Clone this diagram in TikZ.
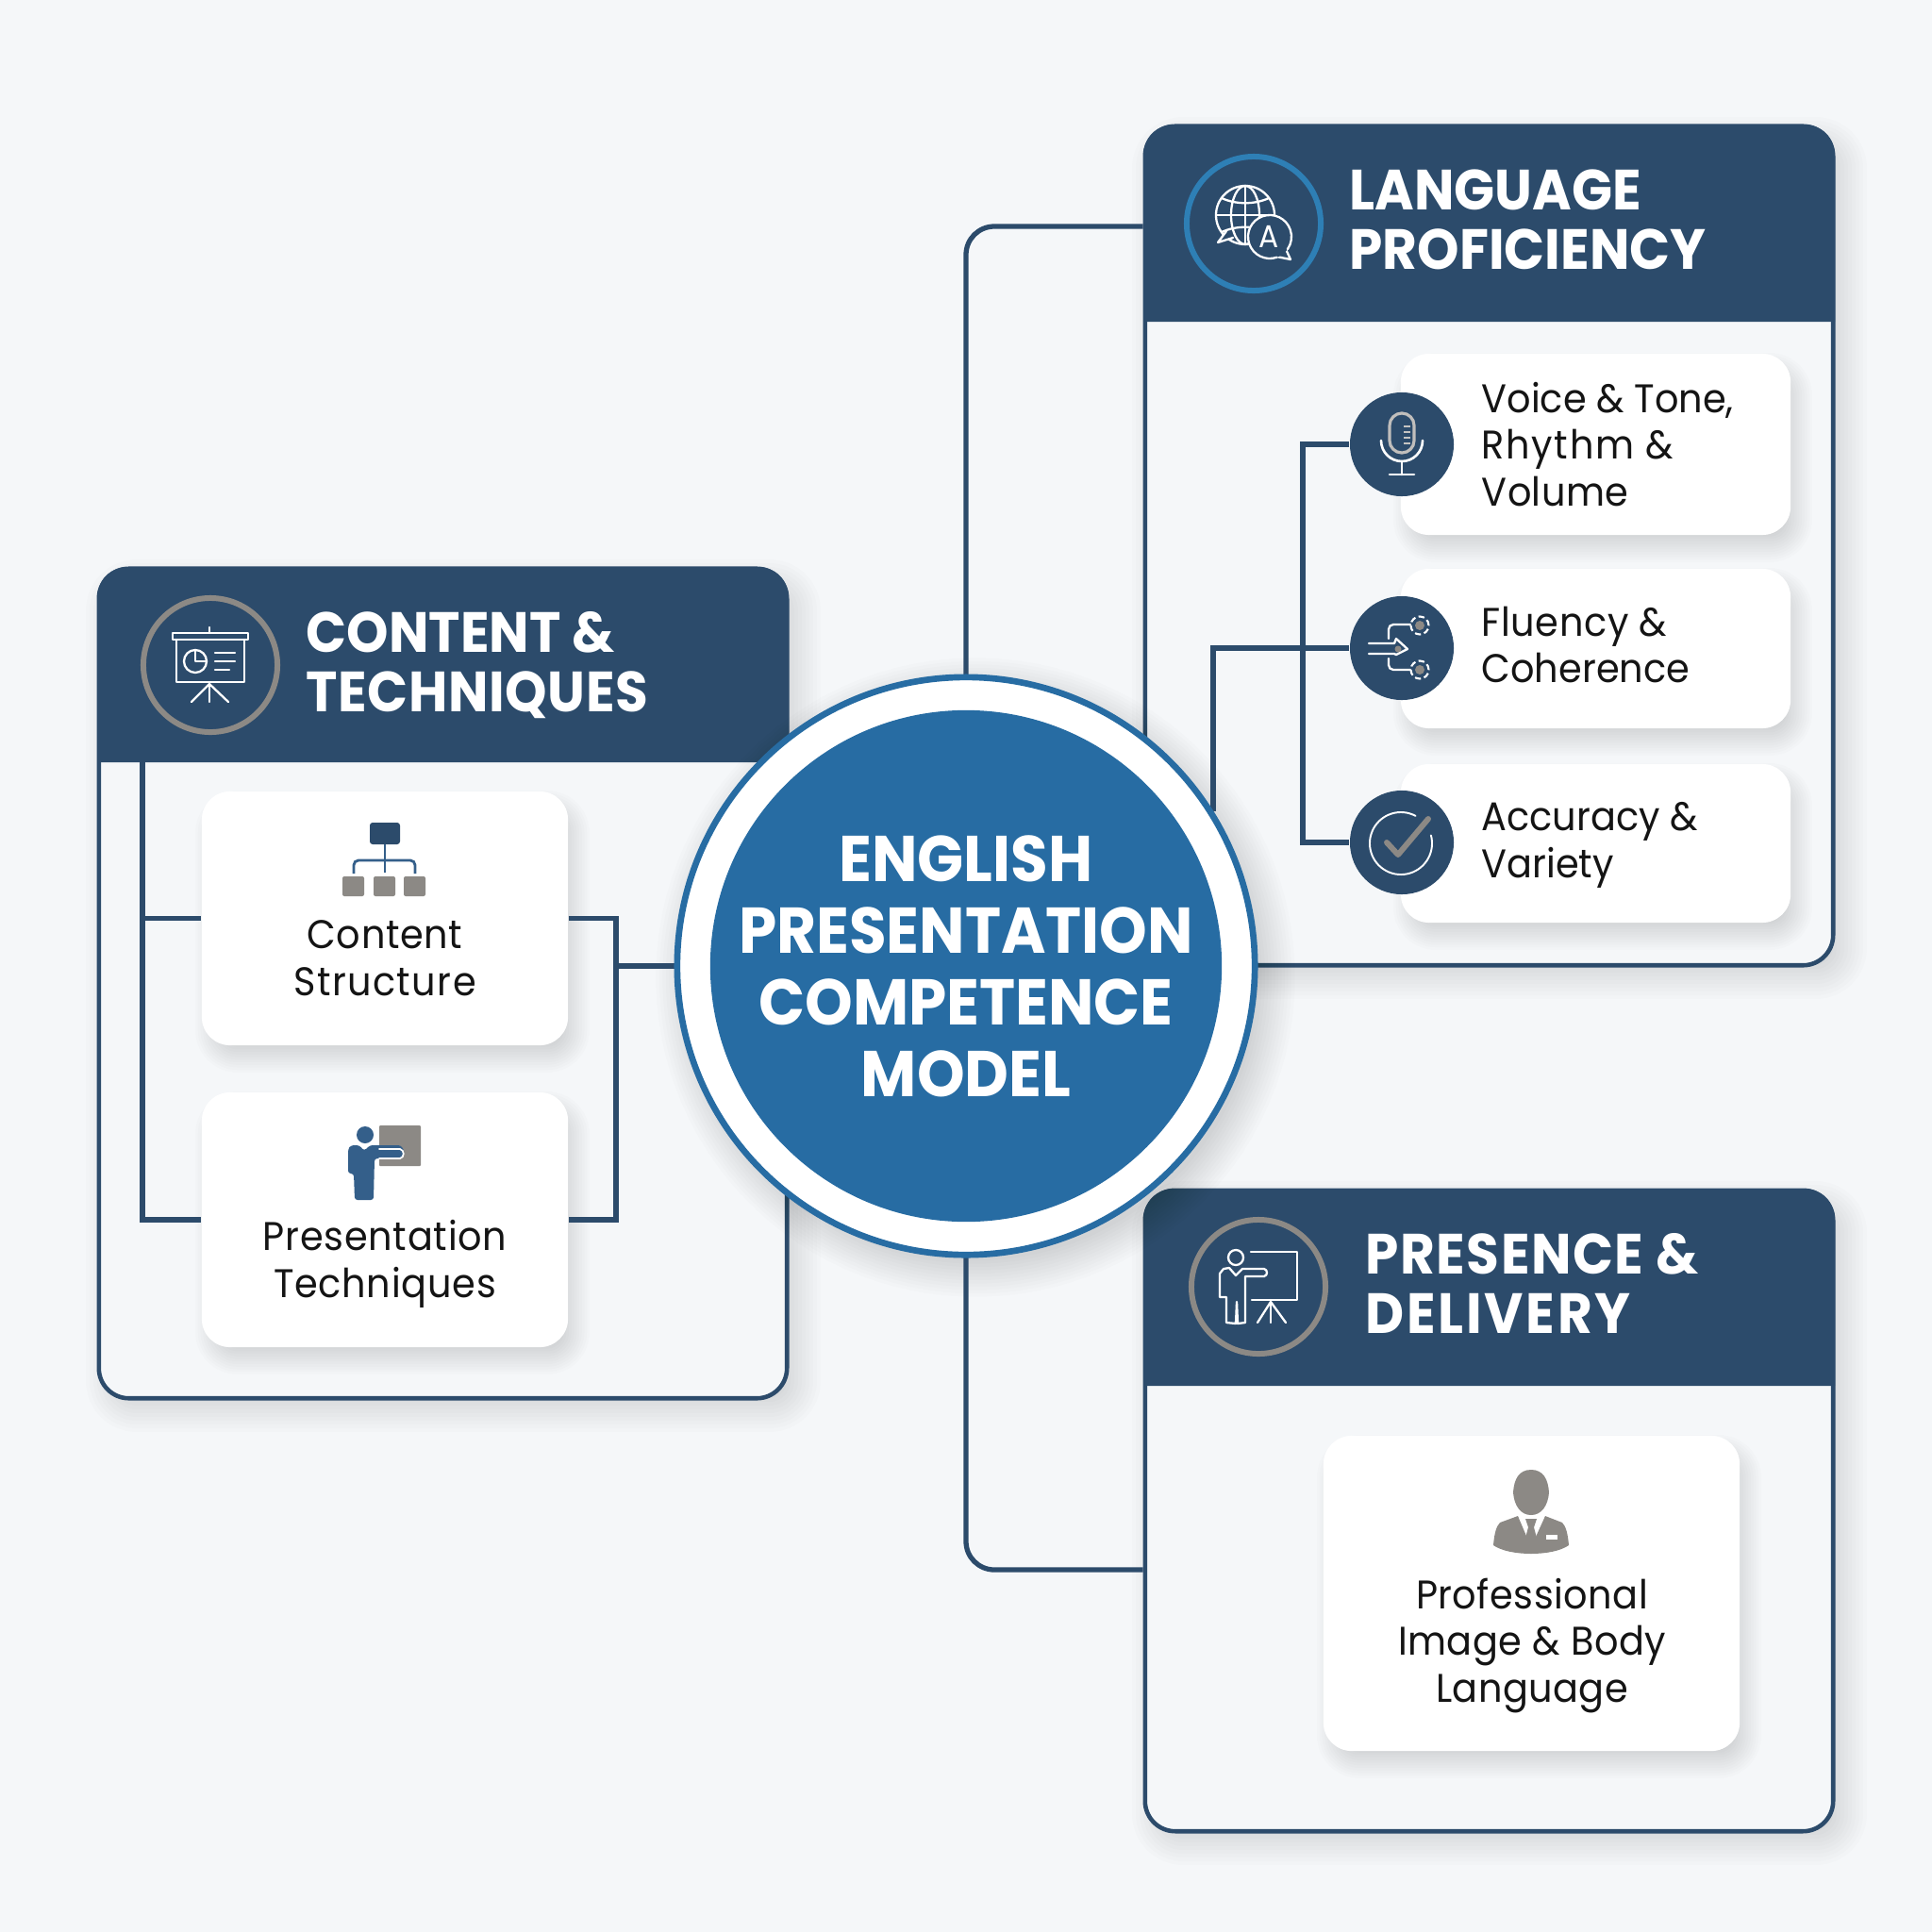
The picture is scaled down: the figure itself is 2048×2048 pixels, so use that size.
\documentclass[tikz,border=0pt]{standalone}
\usepackage{fontspec}
\setmainfont[FakeStretch=0.94]{Poppins}
\usetikzlibrary{calc}
\definecolor{bgc}{HTML}{F5F7F9}
\definecolor{navy}{HTML}{2C4B6B}
\definecolor{corec}{HTML}{276CA3}
\definecolor{ringblue}{HTML}{2E7FB5}
\definecolor{greyc}{HTML}{8C8985}
\definecolor{midblue}{HTML}{345F8A}
\definecolor{inkc}{HTML}{141414}
\newcommand{\softbox}[6]{% x1 y1 x2 y2 radius blur
  \foreach \k in {0,...,11}{
    \pgfmathsetmacro\ee{#6*(\k/11-0.5)}
    \pgfmathsetmacro\rr{max(0.02,(#5-\ee)/100)}
    \fill[black,opacity=.013,rounded corners=\rr cm] (#1+\ee,#2+\ee) rectangle (#3-\ee,#4-\ee);
  }}
\newcommand{\spc}[1]{\addfontfeature{LetterSpace=#1}}
\tikzset{
  panel/.style={draw=navy,line width=1.3pt,fill=bgc,rounded corners=0.32cm,minimum width=7.29cm,inner sep=0pt},
  card/.style={fill=white,rounded corners=0.3cm,inner sep=0pt},
  dot/.style={circle,fill=navy,minimum size=1.1cm,inner sep=0pt},
  conn/.style={draw=navy,line width=1.5pt},
  hdr/.style={fill=navy},
  title/.style={text=white,font=\fontsize{17.1}{17.9}\selectfont\bfseries,align=left,inner sep=0pt,anchor=base west},
  body/.style={text=inkc,font=\fontsize{12.05}{14}\selectfont,inner sep=0pt},
  wline/.style={draw=white,line width=0.75pt,line cap=round,line join=round},
  wthin/.style={draw=white,line width=0.65pt,line cap=round,line join=round},
}
\begin{document}
\begin{tikzpicture}[x=0.01cm,y=-0.01cm]
\useasboundingbox (0,0) rectangle (2048,2048);
\fill[bgc] (0,0) rectangle (2048,2048);

% panel shadows
\softbox{1222}{146}{1957}{1037}{32}{44}
\softbox{113}{615}{848}{1496}{32}{44}
\softbox{1222}{1274}{1957}{1955}{32}{44}

% panels
\node[panel,minimum height=8.89cm] (lang) at (1578.5,578.5) {};
\node[panel,minimum height=8.79cm] (cont) at (469.5,1042.5) {};
\node[panel,minimum height=6.79cm] (pres) at (1578.5,1601.5) {};

% headers
\path[hdr] (1212,341) [rounded corners=0.32cm] -- (1212,132) -- (1945,132) [sharp corners] -- (1945,341) -- cycle;
\path[hdr] (103,808) [rounded corners=0.32cm] -- (103,601) -- (836,601) [sharp corners] -- (836,808) -- cycle;
\path[hdr] (1212,1469) [rounded corners=0.32cm] -- (1212,1260) -- (1945,1260) [sharp corners] -- (1945,1469) -- cycle;

% card shadows
\softbox{1492}{389}{1906}{581}{30}{30}
\softbox{1492}{617}{1906}{786}{30}{30}
\softbox{1492}{824}{1906}{992}{30}{30}
\softbox{222}{853}{610}{1122}{30}{30}
\softbox{222}{1172}{610}{1442}{30}{30}
\softbox{1411}{1536}{1852}{1870}{30}{30}

% core shadow
\foreach \k in {0,...,11}{
  \pgfmathsetmacro\rr{(300+\k*3.5)/100}
  \fill[black,opacity=.012] (1034,1036) circle (\rr cm);
}

% cards
\node[card,minimum width=4.13cm,minimum height=1.92cm] (voice) at (1691.5,471) {};
\node[card,minimum width=4.13cm,minimum height=1.69cm] (fluen) at (1691.5,687.5) {};
\node[card,minimum width=4.13cm,minimum height=1.68cm] (accur) at (1691.5,894) {};
\node[card,minimum width=3.88cm,minimum height=2.69cm] (struc) at (408,973.5) {};
\node[card,minimum width=3.88cm,minimum height=2.70cm] (techn) at (408,1293) {};
\node[card,minimum width=4.41cm,minimum height=3.34cm] (prof) at (1623.5,1689) {};

% icon discs
\node[dot] (dvoice) at (1486,471) {};
\node[dot] (dfluen) at (1486,687) {};
\node[dot] (daccur) at (1486,893) {};

% connector anchor points at the core's rim
\coordinate (coreN) at (1024,715);
\coordinate (coreS) at (1024,1333);
\coordinate (coreW) at (715,1024);

% connectors
\coordinate (lcorner) at (1024,240);
\coordinate (pcorner) at (1024,1664);
\draw[conn,rounded corners=0.3cm] (coreN) -- (lcorner) -- (lang.west |- lcorner);
\draw[conn,rounded corners=0.3cm] (coreS) -- (pcorner) -- (pres.west |- pcorner);
\draw[conn] (dvoice.west) -- (1381,471) -- (1381,893) -- (daccur.west);
\draw[conn] (dfluen.west) -- (1286,687) -- (1286,860);
\coordinate (ltop) at (151,808);
\draw[conn] (ltop) -- (151,1293) -- (techn.west);
\draw[conn] (151,973.5) -- (struc.west);
\draw[conn] (struc.east) -- (653,973.5) -- (653,1293) -- (techn.east);
\draw[conn] (653,1024) -- (coreW);

% core
\node[circle,fill=white,draw=corec,line width=1.9pt,minimum size=6.12cm,inner sep=0pt] (core) at (1024,1024) {};
\node[circle,fill=corec,minimum size=5.42cm,inner sep=0pt] (corein) at (1024,1024) {};
\node[text=white,font=\fontsize{19.5}{21.6}\selectfont\bfseries,align=center,inner sep=0pt,anchor=base] (coretxt) at (1024,1162) {ENGLISH\\PRESENTATION\\COMPETENCE\\MODEL};

% header texts
\node[title] (t1) at (1430,285) {LANGUAGE\\PROFICIENCY};
\node[title] (t2) at (324,754) {CONTENT \&\\{\spc{1}TECHNIQUES}};
\node[title] (t3) at (1447,1413) {{\spc{2.5}PRESENCE \&}\\{\spc{4.5}DELIVERY}};

% body texts
\node[body,align=left,anchor=base west] (x1) at (1570,536) {Voice \& Tone,\\{\spc{4}Rhythm \&}\\{\spc{1}Volume}};
\node[body,align=left,anchor=base west] (x2) at (1570,723.5) {{\spc{1.5}Fluency \&}\\Coherence};
\node[body,align=left,anchor=base west] (x3) at (1570,930) {Accuracy \&\\Variety};
\node[body,align=center,anchor=base] (x4) at (408,1055) {{\spc{1.5}Content}\\{\spc{3.4}Structure}};
\node[body,align=center,anchor=base] (x5) at (408,1375) {{\spc{1.8}Presentation}\\{\spc{1.8}Techniques}};
\node[body,align=center,anchor=base] (x6) at (1624,1804) {{\spc{1.2}Professional}\\{\spc{1.2}Image \& Body}\\{\spc{1}Language}};

% === header icon: language ===
\draw[ringblue,line width=1.7pt] (1329,237) circle (0.71cm);
\begin{scope}
  \draw[wthin] (1320,228) circle (0.31cm);
  \draw[wthin] (1320,228) ellipse (0.15cm and 0.31cm);
  \draw[wthin] (1320,197) -- (1320,259);
  \draw[wthin] (1289,228) -- (1351,228);
  \draw[wthin] (1295,210) .. controls (1310,217) and (1330,217) .. (1345,210);
  \draw[wthin] (1295,246) .. controls (1310,239) and (1330,239) .. (1345,246);
  \draw[wthin,fill=navy] (1300,245) -- (1291,257) -- (1307,252);
  \draw[wthin,fill=navy] (1353,272) -- (1368,275) -- (1362,262);
  \fill[navy] (1346,251) circle (0.23cm);
  \draw[wthin] (1346,251) ++(-71:0.23cm) arc[start angle=-71,end angle=-395,radius=0.23cm];
  \node[text=white,font=\fontsize{9.5}{10}\selectfont,inner sep=0pt] (glA) at (1345,251) {A};
\end{scope}

% === header icon: content ===
\draw[greyc,line width=1.7pt] (223,705) circle (0.71cm);
\draw[wthin] (222,665) -- (222,671);
\draw[wthin] (183,671) rectangle (263,678);
\draw[wthin] (187,678) -- (187,723) -- (259,723) -- (259,678);
\draw[wthin] (207,701) circle (0.12cm);
\draw[wthin] (207,689) -- (207,701) -- (219,701);
\draw[wthin] (228,692) -- (249,692);
\draw[wthin] (228,701) -- (249,701);
\draw[wthin] (228,710) -- (243,710);
\draw[wthin] (222,723) -- (222,744);
\draw[wthin] (222,725) -- (203,744);
\draw[wthin] (222,725) -- (242,744);

% === header icon: presence ===
\draw[greyc,line width=1.7pt] (1334,1364) circle (0.71cm);
\draw[wthin] (1310,1333) circle (0.08cm);
\draw[wthin] (1326,1327) -- (1375,1327) -- (1375,1378) -- (1327,1378);
\draw[wthin] (1347,1378) -- (1347,1402);
\draw[wthin] (1347,1380) -- (1333,1402);
\draw[wthin] (1347,1380) -- (1363,1402);
\draw[wthin] (1297,1345) -- (1293,1350) -- (1293,1375) -- (1300,1375) -- (1300,1402) -- (1310,1403) -- (1311,1380) -- (1312,1403) -- (1320,1402) -- (1320,1353) -- (1340,1353) .. controls (1344,1352) and (1344,1346) .. (1340,1345) -- (1317,1345) -- (1310,1352) -- (1303,1344) -- cycle;

% === org-chart icon ===
\fill[navy,rounded corners=0.03cm] (392,872) rectangle (424,895);
\draw[draw=midblue,line width=0.8pt,rounded corners=0.05cm] (375,926) -- (375,912) -- (440,912) -- (440,926);
\draw[draw=midblue,line width=0.8pt] (408,895) -- (408,925);
\fill[greyc,rounded corners=0.02cm] (363,929) rectangle (386,950);
\fill[greyc,rounded corners=0.02cm] (396,929) rectangle (419,950);
\fill[greyc,rounded corners=0.02cm] (428,929) rectangle (451,950);

% === teacher icon ===
\fill[greyc,rounded corners=0.01cm] (402,1193) rectangle (446,1236);
\fill[midblue] (387,1203) circle (0.09cm);
\fill[midblue,rounded corners=0.03cm] (372,1214) -- (369,1218) -- (369,1244) -- (375,1244) -- (376,1272) -- (396,1272) -- (397,1228) -- (425,1228) -- (429,1221) -- (425,1214) -- (392,1214) -- (386,1220) -- (381,1214) -- cycle;
\draw[white,line width=0.5pt,line cap=round] (402,1218) -- (424,1218) .. controls (429,1219) and (429,1227) .. (424,1228) -- (402,1228);

% === mic icon ===
\draw[draw=greyc!55!white,line width=0.9pt,fill=navy] (1473,451) arc[start angle=180,end angle=0,radius=0.13cm] -- (1499,467) arc[start angle=0,end angle=-180,radius=0.13cm] -- cycle;
\foreach \yy in {452,458,464,470}{\draw[draw=greyc!50!white,line width=0.55pt] (1488,\yy) -- (1495,\yy);}
\draw[wline] (1464,467) arc[start angle=180,end angle=360,radius=0.22cm];
\draw[wline] (1486,489) -- (1486,503);
\draw[wline] (1473,503) -- (1499,503);

% === fluency icon ===
\draw[wthin] (1451,682) -- (1478,682) -- (1480,677) -- (1492,688) -- (1480,694) -- (1478,693) -- (1451,693);
\fill[greyc] (1482,688) circle (0.035cm);
\draw[wthin,rounded corners=0.05cm] (1472,677) -- (1472,662) -- (1495,662);
\draw[wthin,rounded corners=0.05cm] (1472,698) -- (1472,710) -- (1495,710);
\foreach \yy in {663,710}{
  \draw[white,line width=0.6pt,dash pattern=on 1.8pt off 1pt] (1505,\yy) circle (0.095cm);
  \fill[greyc] (1505,\yy) circle (0.05cm);
}

% === accuracy icon ===
\draw[wline,line width=0.55pt] (1485,894) ++(62:0.33cm) arc[start angle=62,end angle=375,radius=0.33cm];
\draw[draw=greyc,line width=1.7pt,line cap=round,line join=round] (1470,893) -- (1482,906) -- (1514,868);

% === professional icon ===
\fill[greyc] (1623,1558) .. controls (1610,1558) and (1605,1568) .. (1604,1582) .. controls (1605,1596) and (1612,1606) .. (1623,1606) .. controls (1634,1606) and (1641,1596) .. (1642,1582) .. controls (1641,1568) and (1636,1558) .. (1623,1558) -- cycle;
\fill[greyc] (1609,1607) -- (1590,1614) .. controls (1586,1618) and (1584,1626) .. (1583,1638) .. controls (1600,1650) and (1646,1650) .. (1663,1638) .. controls (1662,1626) and (1660,1618) .. (1656,1614) -- (1638,1607) -- (1623,1640) -- cycle;
\fill[greyc] (1617,1610) -- (1629,1610) -- (1626,1619) -- (1630,1634) -- (1623,1642) -- (1616,1634) -- (1620,1619) -- cycle;
\fill[white] (1639,1627) rectangle (1651,1632);
\end{tikzpicture}
\end{document}
